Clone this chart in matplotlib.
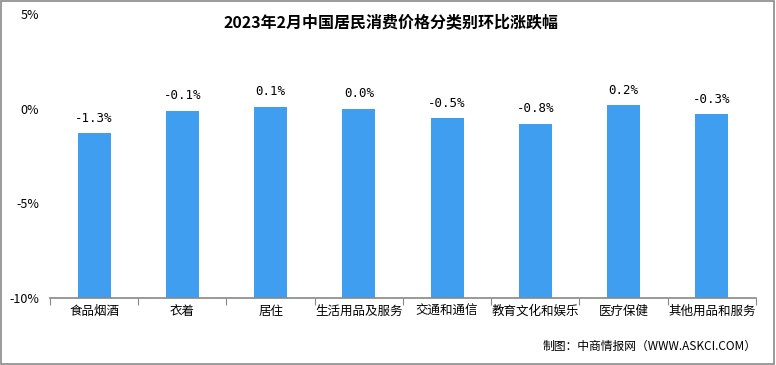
import matplotlib.pyplot as plt
from matplotlib.patches import Rectangle

plt.rcParams['font.family'] = ['Noto Sans CJK SC', 'DejaVu Sans']

categories = ["食品烟酒", "衣着", "居住", "生活用品及服务", "交通和通信",
              "教育文化和娱乐", "医疗保健", "其他用品和服务"]
values = [-1.3, -0.1, 0.1, 0.0, -0.5, -0.8, 0.2, -0.3]
labels = ["-1.3%", "-0.1%", "0.1%", "0.0%", "-0.5%", "-0.8%", "0.2%", "-0.3%"]
yticks = [-10, -5, 0, 5]
ytick_labels = ["-10%", "-5%", "0%", "5%"]

BASE = -10
BAR_COLOR = "#409EF1"

fig = plt.figure(figsize=(7.76, 3.65), dpi=100)
ax = fig.add_axes([0.0644, 0.1836, 0.9098, 0.778])

x = list(range(len(categories)))
heights = [v - BASE for v in values]
ax.bar(x, heights, bottom=BASE, width=0.375, color=BAR_COLOR)

for xi, v, lab in zip(x, values, labels):
    ax.annotate(lab, (xi, v), xytext=(0, 6), textcoords="offset points",
                ha="center", va="bottom", fontsize=9, family=["DejaVu Sans Mono"])

ax.set_xlim(-0.5, len(categories) - 0.5)
ax.set_ylim(BASE, 5)
ax.set_yticks(yticks)
ax.set_yticklabels(ytick_labels, fontsize=9)
ax.tick_params(axis="y", length=0, pad=8)

# category boundary ticks on the x axis
ax.set_xticks([i - 0.5 for i in range(len(categories) + 1)], minor=False)
ax.set_xticklabels([])
ax.tick_params(axis="x", direction="out", length=5, color="#888888")
ax.set_xticks(x, minor=True)
ax.set_xticklabels(categories, minor=True, fontsize=9)
ax.tick_params(axis="x", which="minor", length=0, pad=5)

for side in ["top", "right", "left"]:
    ax.spines[side].set_visible(False)
ax.spines["bottom"].set_color("#888888")
ax.spines["bottom"].set_linewidth(1.2)

fig.text(0.504, 0.94, "2023年2月中国居民消费价格分类别环比涨跌幅",
         ha="center", va="center", fontsize=11.5, fontweight="bold")
fig.text(0.975, 0.052, "制图：中商情报网（WWW.ASKCI.COM）",
         ha="right", va="center", fontsize=8.5)

fig.patches.append(Rectangle((0.001, 0.002), 0.997, 0.995, transform=fig.transFigure,
                             fill=False, edgecolor="#8a8a8a", linewidth=1.2))

fig.savefig("out.png", dpi=100)
